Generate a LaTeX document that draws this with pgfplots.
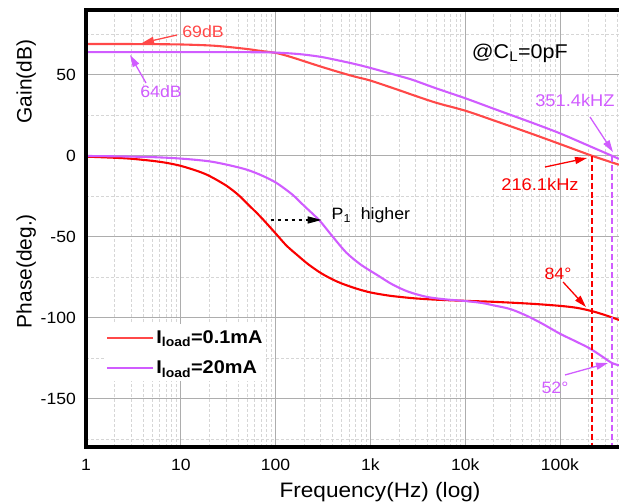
\documentclass[border=0pt]{standalone}
\usepackage{fontspec}
\setmainfont{Liberation Sans}[FakeStretch=1.08]
\newfontfamily\labelfont{Liberation Sans}
\usepackage{pgfplots}
\pgfplotsset{compat=1.18}
\usetikzlibrary{arrows.meta}

\definecolor{gainred}{RGB}{255,72,72}
\definecolor{phasered}{RGB}{250,0,0}
\definecolor{loadviolet}{RGB}{208,92,255}
\newcommand\fs[1]{\fontsize{#1}{#1}\selectfont}

\begin{document}
\begin{tikzpicture}
\useasboundingbox (-86bp,-56bp) rectangle (533bp,447bp);
\begin{axis}[
  name=ax,
  at={(0,0)}, anchor=south west,
  scale only axis, width=533bp, height=437bp,
  clip=false,
  xmode=log, log basis x=10,
  xmin=1, xmax=4.2e5, ymin=-180, ymax=90,
  axis x line=box, axis y line=left,
  axis line style={draw=none},
  major tick length=0pt, minor tick length=0pt,
  xtick={1,10,100,1000,10000,100000},
  xticklabels={1,10,100,1k,10k,100k},
  minor xtick={2,3,4,5,6,7,8,9,20,30,40,50,60,70,80,90,200,300,400,500,600,700,800,900,
    2000,3000,4000,5000,6000,7000,8000,9000,20000,30000,40000,50000,60000,70000,80000,90000,
    200000,300000,400000},
  ytick={-150,-100,-50,0,50},
  yticklabels={-150,-100,-50,0,50},
  minor ytick={-175,-125,-75,-25,25,75},
  xticklabel style={font=\fs{16.3}, inner sep=0pt, anchor=base, yshift=-23bp},
  yticklabel style={font=\fs{16.3}, inner sep=0pt, anchor=east, xshift=-10bp},
  grid=both,
  major grid style={color=black!32, line width=0.8pt},
  minor grid style={color=black!16, dash pattern=on 3bp off 2bp, line width=0.7pt},
  legend style={at={(axis description cs:0.034,0.281)}, anchor=north west,
    draw=none, fill=white, row sep=12bp,
    inner xsep=2bp, inner ysep=4bp},
  legend cell align=left,
  legend image code/.code={\draw[#1] (0bp,0bp) -- (46bp,0bp);},
]

% open-loop gain (dB)
\addplot[gainred, line width=2.1pt, smooth] coordinates {
  (1,69) (2,69) (5,68.9) (10,68.7) (20,68.1) (30,67.3) (50,65.9) (70,64.7)
  (100,63.5) (130,61.8) (170,59.7) (230,57.2) (317,54.6) (500,51.1) (700,48.7)
  (1000,46.4) (2000,40.5) (2800,37.5) (5000,32.6) (10000,27.8) (20000,21.8)
  (50000,13.6) (100000,7.2) (150000,3.4) (216100,0) (300000,-2.8) (420000,-5.6)};
\addlegendentry{\fs{18.5}\bfseries I\textsubscript{load}=0.1mA}

\addplot[loadviolet, line width=2.1pt, smooth] coordinates {
  (1,64) (10,64) (30,64) (60,63.9) (100,63.7) (166,62.9) (230,62.0) (317,60.8)
  (500,58.4) (700,56.5) (1000,54.2) (2000,49.3) (2800,46.8) (5000,41.5)
  (10000,35.5) (20000,29.0) (50000,20.5) (100000,13.8) (200000,6.2)
  (351400,0) (420000,-2.0)};
\addlegendentry{\fs{18.5}\bfseries I\textsubscript{load}=20mA}

% phase (deg.)
\addplot[phasered, line width=2.1pt, smooth, forget plot] coordinates {
  (1,-0.6) (2,-1.3) (3,-1.9) (5,-3.2) (7,-4.4) (10,-6.3) (15,-9.5) (20,-12.5)
  (30,-18.4) (40,-24) (50,-29.5) (70,-38) (100,-48) (130,-55.5) (170,-61.5)
  (220,-67) (300,-72.5) (400,-76.5) (500,-79) (700,-82) (1000,-84.5)
  (1500,-86.3) (2000,-87.2) (3000,-88.2) (5000,-89) (10000,-89.7)
  (20000,-90.3) (50000,-91.5) (100000,-92.8) (150000,-94) (216100,-96)
  (300000,-98.5) (420000,-101.5)};

\addplot[loadviolet, line width=2.1pt, smooth, forget plot] coordinates {
  (1,-0.2) (2,-0.4) (5,-0.9) (10,-1.8) (20,-3.5) (33,-6) (50,-8.7) (70,-12)
  (100,-16.5) (150,-24) (200,-31) (290,-40) (400,-50) (560,-60) (800,-67.5)
  (1200,-74) (1700,-79.5) (2500,-84) (3900,-87.2) (6000,-88.7) (10000,-89.8)
  (15000,-91) (20000,-92.5) (30000,-94.8) (45000,-99) (66000,-104)
  (100000,-110) (150000,-115) (205000,-119) (270000,-123.5) (351400,-128)
  (420000,-129.5)};

% unity-gain frequency markers
\addplot[color=phasered, line width=1.8pt, dash pattern=on 6pt off 3pt, forget plot]
  coordinates {(216100,0) (216100,-180)};
\addplot[color=loadviolet, line width=1.8pt, dash pattern=on 6pt off 3pt, forget plot]
  coordinates {(351400,0) (351400,-180)};

% annotations
\begin{scope}[>={Triangle[length=12bp,width=7bp]}, line width=1.3pt]
\node[gainred, font=\fs{16.5}, anchor=base] at (axis description cs:0.2195,0.9375) {69dB};
\draw[->, gainred] (axis description cs:0.1707,0.9428) -- (axis description cs:0.1051,0.9245);

\node[loadviolet, font=\fs{16.5}, anchor=base] at (axis description cs:0.1407,0.7989) {64dB};
\draw[->, loadviolet] (axis description cs:0.1126,0.833) -- (axis description cs:0.0826,0.897);

\node[black, font=\fs{20}, anchor=base] at (axis description cs:0.814,0.8895) {@C\textsubscript{L}=0pF};

\node[loadviolet, font=\fs{17}, anchor=base] at (axis description cs:0.9174,0.7787) {351.4kHZ};
\draw[->, loadviolet] (axis description cs:0.9456,0.7551) -- (axis description cs:0.9887,0.675);

\node[phasered, font=\fs{17}, anchor=base] at (axis description cs:0.8518,0.5865) {216.1kHz};
\draw[->, phasered] (axis description cs:0.8612,0.6407) -- (axis description cs:0.94,0.6613);

\draw[->, black, line width=1.5pt, dash pattern=on 3bp off 4bp, >={Triangle[length=14bp,width=7bp]}]
  (axis description cs:0.3465,0.5195) -- (axis description cs:0.4421,0.5195);
\node[black, font=\fs{16.5}, anchor=base west, inner sep=0pt] at (axis description cs:0.4597,0.5195)
  {P\textsubscript{1}\ \ higher};

\node[phasered, font=\fs{16.5}, anchor=base] at (axis description cs:0.8856,0.3822) {84°};
\draw[->, phasered] (axis description cs:0.895,0.3776) -- (axis description cs:0.938,0.3204);

\node[loadviolet, font=\fs{16.5}, anchor=base] at (axis description cs:0.8799,0.1213) {52°};
\draw[->, loadviolet] (axis description cs:0.8987,0.1648) -- (axis description cs:0.9794,0.1922);
\end{scope}

% axis titles
\node[rotate=90, anchor=base, font=\labelfont\fs{21}] at (axis description cs:-0.1019,0.8364) {Gain(dB)};
\node[rotate=90, anchor=base, font=\labelfont\fs{21}] at (axis description cs:-0.1019,0.4027) {Phase(deg.)};
\node[anchor=base, font=\fs{21}] at (axis description cs:0.5516,-0.1167) {Frequency(Hz) (log)};
\end{axis}
% frame: left, top and bottom edges
\draw[black, line width=3.2pt, line join=miter]
  (ax.north east) -- (ax.north west) -- (ax.south west) -- (ax.south east);
\end{tikzpicture}
\end{document}
